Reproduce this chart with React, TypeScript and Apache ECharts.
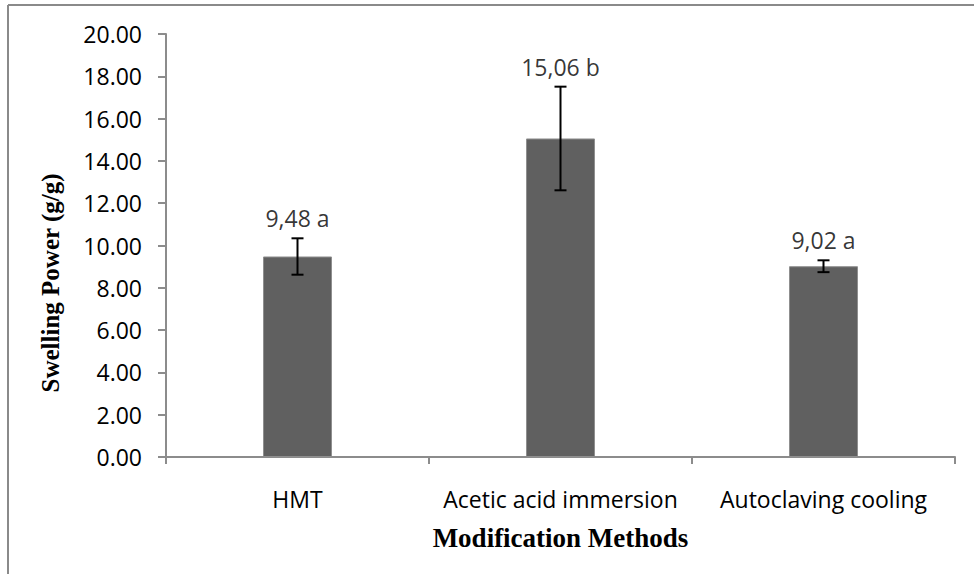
import React, { useEffect, useRef } from "react";
import * as echarts from "echarts";

const categories = ["HMT", "Acetic acid immersion", "Autoclaving cooling"];
const means = [9.48, 15.06, 9.02];
const errors = [0.86, 2.45, 0.28];
const pointLabels = ["9,48 a", "15,06 b", "9,02 a"];
const yMin = 0;
const yMax = 20;
const yInterval = 2;

const AXIS_GRAY = "#8c8c8c";
const SANS = "'Open Sans', sans-serif";
const SERIF = "'Liberation Serif', 'Times New Roman', serif";

export default function App() {
  const ref = useRef<HTMLDivElement>(null);

  useEffect(() => {
    if (!ref.current) return;
    const chart = echarts.init(ref.current, undefined, { renderer: "svg" });

    const errData = means.map((m, i) => [i, m - errors[i], m + errors[i]]);
    const labelData = means.map((m, i) => [i, m + errors[i]]);

    chart.setOption({
      animation: false,
      backgroundColor: "#ffffff",
      grid: { left: 166, top: 34, right: 19, bottom: 117, containLabel: false },
      xAxis: {
        type: "category",
        data: categories,
        boundaryGap: true,
        name: "Modification Methods",
        nameLocation: "middle",
        nameGap: 67,
        nameTextStyle: { fontFamily: SERIF, fontWeight: "bold", fontSize: 27, color: "#000" },
        axisLine: { lineStyle: { color: AXIS_GRAY, width: 2 } },
        axisTick: { show: true, length: 7, lineStyle: { color: AXIS_GRAY, width: 2 } },
        axisLabel: {
          fontFamily: SANS,
          fontSize: 23,
          color: "#000",
          margin: 30,
          interval: 0,
          hideOverlap: false,
        },
        splitLine: { show: false },
      },
      yAxis: {
        type: "value",
        min: yMin,
        max: yMax,
        interval: yInterval,
        axisLine: { show: true, lineStyle: { color: AXIS_GRAY, width: 2 } },
        axisTick: { show: true, length: 8, lineStyle: { color: AXIS_GRAY, width: 2 } },
        axisLabel: {
          fontFamily: SANS,
          fontSize: 23,
          color: "#000",
          margin: 24,
          formatter: (v: number) => v.toFixed(2),
        },
        splitLine: { show: false },
      },
      graphic: [
        {
          type: "line",
          shape: { x1: 8, y1: 5, x2: 974, y2: 5 },
          style: { stroke: "#8a8a8a", lineWidth: 2 },
          silent: true,
        },
        {
          type: "line",
          shape: { x1: 8, y1: 5, x2: 8, y2: 574 },
          style: { stroke: "#8a8a8a", lineWidth: 2 },
          silent: true,
        },
        {
          type: "text",
          x: 50,
          y: 283,
          rotation: Math.PI / 2,
          style: {
            text: "Swelling Power (g/g)",
            fontFamily: SERIF,
            fontWeight: "bold",
            fontSize: 25,
            fill: "#000",
            align: "center",
            verticalAlign: "middle",
          },
          silent: true,
        },
      ],
      series: [
        {
          type: "bar",
          data: means,
          barWidth: 69,
          itemStyle: { color: "#606060", borderColor: "#8f8f8f", borderWidth: 1 },
          z: 2,
        },
        {
          type: "custom",
          data: errData,
          encode: { x: 0, y: [1, 2] },
          z: 5,
          renderItem: (params: any, api: any) => {
            const i = api.value(0);
            const lo = api.coord([i, api.value(1)]);
            const hi = api.coord([i, api.value(2)]);
            const hw = 6;
            const style = { stroke: "#000", lineWidth: 2 };
            return {
              type: "group",
              children: [
                { type: "line", shape: { x1: hi[0], y1: hi[1], x2: lo[0], y2: lo[1] }, style },
                { type: "line", shape: { x1: hi[0] - hw, y1: hi[1], x2: hi[0] + hw, y2: hi[1] }, style },
                { type: "line", shape: { x1: lo[0] - hw, y1: lo[1], x2: lo[0] + hw, y2: lo[1] }, style },
              ],
            };
          },
        },
        {
          type: "scatter",
          data: labelData,
          symbolSize: 1,
          itemStyle: { color: "rgba(0,0,0,0)" },
          z: 6,
          label: {
            show: true,
            position: "top",
            distance: 8,
            fontFamily: SANS,
            fontSize: 23,
            color: "#000",
            formatter: (p: any) => pointLabels[p.dataIndex],
          },
        },
      ],
    });

    return () => chart.dispose();
  }, []);

  return (
    <div
      ref={ref}
      style={{ position: "fixed", left: 0, top: 0, width: 974, height: 574, background: "#fff" }}
    />
  );
}
